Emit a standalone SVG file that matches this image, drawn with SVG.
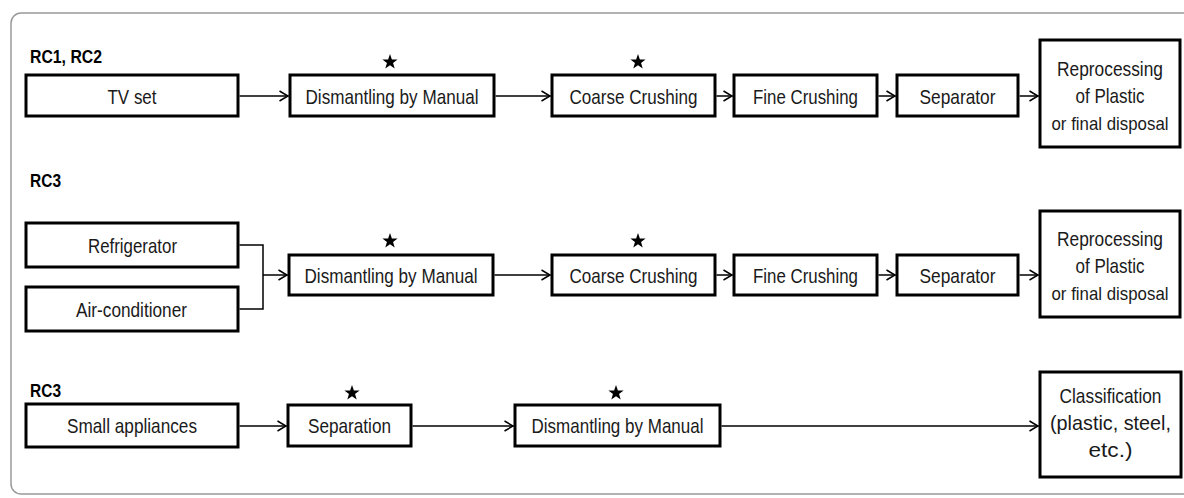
<svg xmlns="http://www.w3.org/2000/svg" width="1184" height="498" viewBox="0 0 1184 498">
<style>
.box{fill:#fff;stroke:#000;stroke-width:3}
.t{font-family:"Liberation Sans",Arial,sans-serif;font-size:21px;fill:#1a1a1a;text-anchor:middle}
.s{font-size:19px}
.h{font-family:"Liberation Sans",Arial,sans-serif;font-size:18px;font-weight:bold;fill:#000}
.c{fill:none;stroke:#000;stroke-width:1.5}
.star{fill:#000}
</style>
<defs>
<marker id="arr" viewBox="0 0 10 12" refX="10" refY="6" markerWidth="10" markerHeight="12" markerUnits="userSpaceOnUse" orient="auto">
<path d="M1,1 L9.5,6 L1,11" fill="none" stroke="#000" stroke-width="1.5"/>
</marker>
<polygon id="st" points="0,-8 1.88,-2.59 7.61,-2.47 3.04,0.99 4.7,6.47 0,3.2 -4.7,6.47 -3.04,0.99 -7.61,-2.47 -1.88,-2.59"/>
</defs>
<rect x="11" y="13" width="1200" height="481" rx="10" fill="none" stroke="#999" stroke-width="1.5"/>
<g id="labels">
<text class="h" x="30" y="63" textLength="72" lengthAdjust="spacingAndGlyphs">RC1, RC2</text>
<text class="h" x="30" y="187" textLength="31" lengthAdjust="spacingAndGlyphs">RC3</text>
<text class="h" x="30" y="397" textLength="31" lengthAdjust="spacingAndGlyphs">RC3</text>
</g>
<g id="stars" class="star">
<use href="#st" x="390" y="62"/>
<use href="#st" x="638" y="62"/>
<use href="#st" x="390" y="241"/>
<use href="#st" x="638" y="241"/>
<use href="#st" x="352" y="393"/>
<use href="#st" x="616" y="393"/>
</g>
<g id="connectors">
<line class="c" x1="239.5" y1="96" x2="288.5" y2="96" marker-end="url(#arr)"/>
<line class="c" x1="495.5" y1="96" x2="550.5" y2="96" marker-end="url(#arr)"/>
<line class="c" x1="716.5" y1="96" x2="732.5" y2="96" marker-end="url(#arr)"/>
<line class="c" x1="878.5" y1="96" x2="895.5" y2="96" marker-end="url(#arr)"/>
<line class="c" x1="1019.5" y1="96" x2="1038.5" y2="96" marker-end="url(#arr)"/>
<path class="c" d="M239.5,245 H263 V309 H239.5"/>
<line class="c" x1="263" y1="275" x2="287.5" y2="275" marker-end="url(#arr)"/>
<line class="c" x1="494.5" y1="275" x2="550.5" y2="275" marker-end="url(#arr)"/>
<line class="c" x1="716.5" y1="275" x2="732.5" y2="275" marker-end="url(#arr)"/>
<line class="c" x1="878.5" y1="275" x2="895.5" y2="275" marker-end="url(#arr)"/>
<line class="c" x1="1019.5" y1="275" x2="1038.5" y2="275" marker-end="url(#arr)"/>
<line class="c" x1="239.5" y1="426" x2="286.5" y2="426" marker-end="url(#arr)"/>
<line class="c" x1="412.5" y1="426" x2="513.5" y2="426" marker-end="url(#arr)"/>
<line class="c" x1="721.5" y1="426" x2="1038.5" y2="426" marker-end="url(#arr)"/>
</g>
<g id="n-tvset"><rect class="box" x="26" y="75" width="212" height="41"/><text class="t" x="132" y="104" textLength="49" lengthAdjust="spacingAndGlyphs">TV set</text></g>
<g id="n-dism1"><rect class="box" x="290" y="75" width="204" height="41"/><text class="t" x="392" y="104" textLength="173" lengthAdjust="spacingAndGlyphs">Dismantling by Manual</text></g>
<g id="n-coarse1"><rect class="box" x="552" y="75" width="163" height="41"/><text class="t" x="633.5" y="104" textLength="128" lengthAdjust="spacingAndGlyphs">Coarse Crushing</text></g>
<g id="n-fine1"><rect class="box" x="734" y="75" width="143" height="41"/><text class="t" x="805.5" y="104" textLength="105" lengthAdjust="spacingAndGlyphs">Fine Crushing</text></g>
<g id="n-sep1"><rect class="box" x="897" y="75" width="121" height="41"/><text class="t" x="957.5" y="104" textLength="76" lengthAdjust="spacingAndGlyphs">Separator</text></g>
<g id="n-repro1"><rect class="box" x="1040" y="40" width="140" height="107"/>
<text class="t" x="1110" y="76" textLength="106" lengthAdjust="spacingAndGlyphs">Reprocessing</text>
<text class="t" x="1110" y="103" textLength="69" lengthAdjust="spacingAndGlyphs">of Plastic</text>
<text class="t s" x="1110" y="130" textLength="117" lengthAdjust="spacingAndGlyphs">or final disposal</text></g>
<g id="n-fridge"><rect class="box" x="26" y="223" width="212" height="44"/><text class="t" x="132.5" y="253" textLength="89" lengthAdjust="spacingAndGlyphs">Refrigerator</text></g>
<g id="n-aircon"><rect class="box" x="26" y="287" width="212" height="44"/><text class="t" x="131.5" y="317" textLength="111" lengthAdjust="spacingAndGlyphs">Air-conditioner</text></g>
<g id="n-dism2"><rect class="box" x="289" y="255" width="204" height="40"/><text class="t" x="391" y="283" textLength="173" lengthAdjust="spacingAndGlyphs">Dismantling by Manual</text></g>
<g id="n-coarse2"><rect class="box" x="552" y="255" width="163" height="40"/><text class="t" x="633.5" y="283" textLength="128" lengthAdjust="spacingAndGlyphs">Coarse Crushing</text></g>
<g id="n-fine2"><rect class="box" x="734" y="255" width="143" height="40"/><text class="t" x="805.5" y="283" textLength="105" lengthAdjust="spacingAndGlyphs">Fine Crushing</text></g>
<g id="n-sep2"><rect class="box" x="897" y="255" width="121" height="40"/><text class="t" x="957.5" y="283" textLength="76" lengthAdjust="spacingAndGlyphs">Separator</text></g>
<g id="n-repro2"><rect class="box" x="1040" y="211" width="140" height="106"/>
<text class="t" x="1110" y="246" textLength="106" lengthAdjust="spacingAndGlyphs">Reprocessing</text>
<text class="t" x="1110" y="273" textLength="69" lengthAdjust="spacingAndGlyphs">of Plastic</text>
<text class="t s" x="1110" y="300" textLength="117" lengthAdjust="spacingAndGlyphs">or final disposal</text></g>
<g id="n-small"><rect class="box" x="26" y="404" width="212" height="43"/><text class="t" x="132" y="433" textLength="130" lengthAdjust="spacingAndGlyphs">Small appliances</text></g>
<g id="n-separation"><rect class="box" x="288" y="405" width="123" height="41"/><text class="t" x="349.5" y="433" textLength="83" lengthAdjust="spacingAndGlyphs">Separation</text></g>
<g id="n-dism3"><rect class="box" x="515" y="405" width="205" height="41"/><text class="t" x="617.5" y="433" textLength="172" lengthAdjust="spacingAndGlyphs">Dismantling by Manual</text></g>
<g id="n-class"><rect class="box" x="1040" y="372" width="141" height="105"/>
<text class="t" x="1110.5" y="403" textLength="102" lengthAdjust="spacingAndGlyphs">Classification</text>
<text class="t" x="1110.5" y="430" textLength="121" lengthAdjust="spacingAndGlyphs">(plastic, steel,</text>
<text class="t" x="1110.5" y="457" textLength="44" lengthAdjust="spacingAndGlyphs">etc.)</text></g>
</svg>
